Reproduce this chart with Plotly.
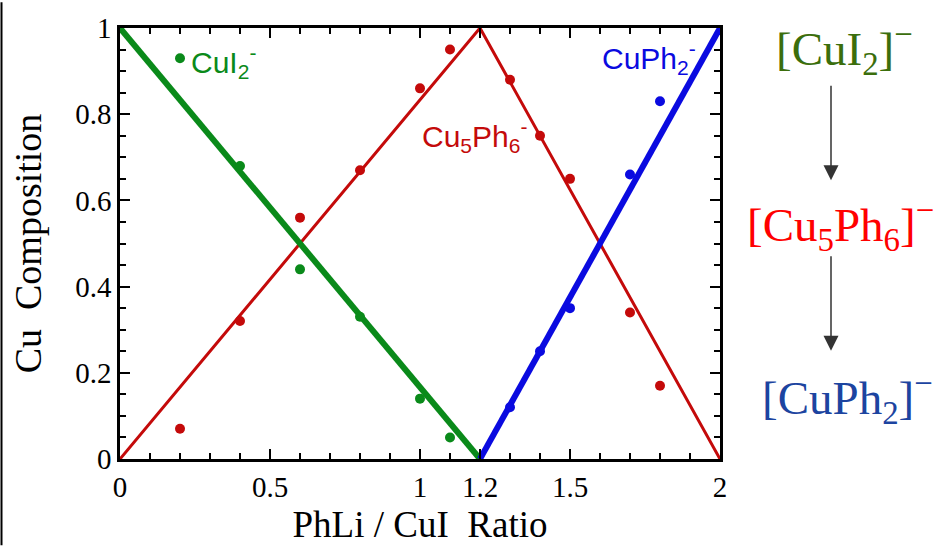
import plotly.graph_objects as go

# Measured Cu speciation vs PhLi / CuI ratio
ratio_cui2 = [0.2, 0.4, 0.6, 0.8, 1.0, 1.1]
comp_cui2 = [0.93, 0.68, 0.44, 0.33, 0.14, 0.05]

ratio_cu5 = [0.2, 0.4, 0.6, 0.8, 1.0, 1.1, 1.3, 1.4, 1.5, 1.7, 1.8]
comp_cu5 = [0.07, 0.32, 0.56, 0.67, 0.86, 0.95, 0.88, 0.75, 0.65, 0.34, 0.17]

ratio_cuph2 = [1.3, 1.4, 1.5, 1.7, 1.8]
comp_cuph2 = [0.12, 0.25, 0.35, 0.66, 0.83]

# Ideal stoichiometric model lines
model_cui2_x = [0, 1.2]
model_cui2_y = [1, 0]
model_cu5_x = [0, 1.2, 2]
model_cu5_y = [0, 1, 0]
model_cuph2_x = [1.2, 2]
model_cuph2_y = [0, 1]

x_tick_vals = [0, 0.5, 1, 1.2, 1.5, 2]
x_tick_text = ["0", "0.5", "1", "1.2", "1.5", "2"]
y_tick_vals = [0, 0.2, 0.4, 0.6, 0.8, 1]
y_tick_text = ["0", "0.2", "0.4", "0.6", "0.8", "1"]

GREEN = "#0a8a1a"
RED = "#c40a0a"
BLUE = "#0a0ae0"

fig = go.Figure()
fig.add_trace(go.Scatter(x=model_cu5_x, y=model_cu5_y, mode="lines",
                         line=dict(color=RED, width=3), hoverinfo="skip"))
fig.add_trace(go.Scatter(x=model_cui2_x, y=model_cui2_y, mode="lines",
                         line=dict(color=GREEN, width=6), hoverinfo="skip"))
fig.add_trace(go.Scatter(x=model_cuph2_x, y=model_cuph2_y, mode="lines",
                         line=dict(color=BLUE, width=6), hoverinfo="skip"))
fig.add_trace(go.Scatter(x=ratio_cu5, y=comp_cu5, mode="markers",
                         marker=dict(color=RED, size=10), cliponaxis=False))
fig.add_trace(go.Scatter(x=ratio_cui2, y=comp_cui2, mode="markers",
                         marker=dict(color=GREEN, size=10), cliponaxis=False))
fig.add_trace(go.Scatter(x=ratio_cuph2, y=comp_cuph2, mode="markers",
                         marker=dict(color=BLUE, size=10), cliponaxis=False))

serif = "Liberation Serif, Times New Roman, serif"
sans = "Liberation Sans, Arial, sans-serif"

axis_common = dict(
    showgrid=False, zeroline=False, showline=True, linecolor="black", linewidth=2.5,
    mirror="ticks", ticks="inside", ticklen=10, tickwidth=2, tickcolor="black",
    tickfont=dict(family=serif, size=29, color="black"),
)

fig.update_xaxes(range=[0, 2], tickvals=x_tick_vals, ticktext=x_tick_text,
                 minor=dict(dtick=0.1, tick0=0, ticks="inside", ticklen=6,
                            tickwidth=2, tickcolor="black"),
                 title=dict(text="PhLi / CuI  Ratio", font=dict(family=serif, size=37, color="black"),
                            standoff=10),
                 **axis_common)
fig.update_yaxes(range=[0, 1], tickvals=y_tick_vals, ticktext=y_tick_text,
                 minor=dict(dtick=0.05, tick0=0, ticks="inside", ticklen=6,
                            tickwidth=2, tickcolor="black"),
                 title=dict(text="Cu  Composition", font=dict(family=serif, size=38, color="black"),
                            standoff=22),
                 **axis_common)

arrow_style = dict(xref="paper", yref="paper", text="", showarrow=True,
                   ax=0, ay=-96, axref="pixel", ayref="pixel", arrowhead=2,
                   arrowsize=2.0, arrowwidth=1.5, arrowcolor="#333333")

annotations = [
    # in-plot species labels
    dict(x=0.23, y=0.92, xref="x", yref="y", text="CuI<sub>2</sub><sup>-</sup>",
         showarrow=False, xanchor="left", yanchor="middle",
         font=dict(family=sans, size=30, color=GREEN)),
    dict(x=1.0, y=0.75, xref="x", yref="y", text="Cu<sub>5</sub>Ph<sub>6</sub><sup>-</sup>",
         showarrow=False, xanchor="left", yanchor="middle",
         font=dict(family=sans, size=30, color=RED)),
    dict(x=1.6, y=0.93, xref="x", yref="y", text="CuPh<sub>2</sub><sup>-</sup>",
         showarrow=False, xanchor="left", yanchor="middle",
         font=dict(family=sans, size=30, color=BLUE)),
    # reaction sequence on the right
    dict(x=1.208, y=0.952, xref="paper", yref="paper", text="[CuI<sub>2</sub>]<sup>\u2212</sup>",
         showarrow=False, xanchor="center", yanchor="middle",
         font=dict(family=serif, size=47, color="#3b6e0c")),
    dict(x=1.2, y=0.543, xref="paper", yref="paper", text="[Cu<sub>5</sub>Ph<sub>6</sub>]<sup>\u2212</sup>",
         showarrow=False, xanchor="center", yanchor="middle",
         font=dict(family=serif, size=47, color="#ff0000")),
    dict(x=1.213, y=0.142, xref="paper", yref="paper", text="[CuPh<sub>2</sub>]<sup>\u2212</sup>",
         showarrow=False, xanchor="center", yanchor="middle",
         font=dict(family=serif, size=47, color="#1c44a0")),
    dict(x=1.185, y=0.647, **arrow_style),
    dict(x=1.185, y=0.251, **arrow_style),
]

fig.update_layout(
    width=935, height=550,
    margin=dict(l=120, r=215, t=22, b=86),
    paper_bgcolor="white", plot_bgcolor="white",
    showlegend=False,
    annotations=annotations,
    shapes=[dict(type="line", xref="paper", yref="paper",
                 x0=-0.1975, x1=-0.1975, y0=-0.2, y1=1.06,
                 line=dict(color="black", width=2))],
)

fig.write_html("out.html")
